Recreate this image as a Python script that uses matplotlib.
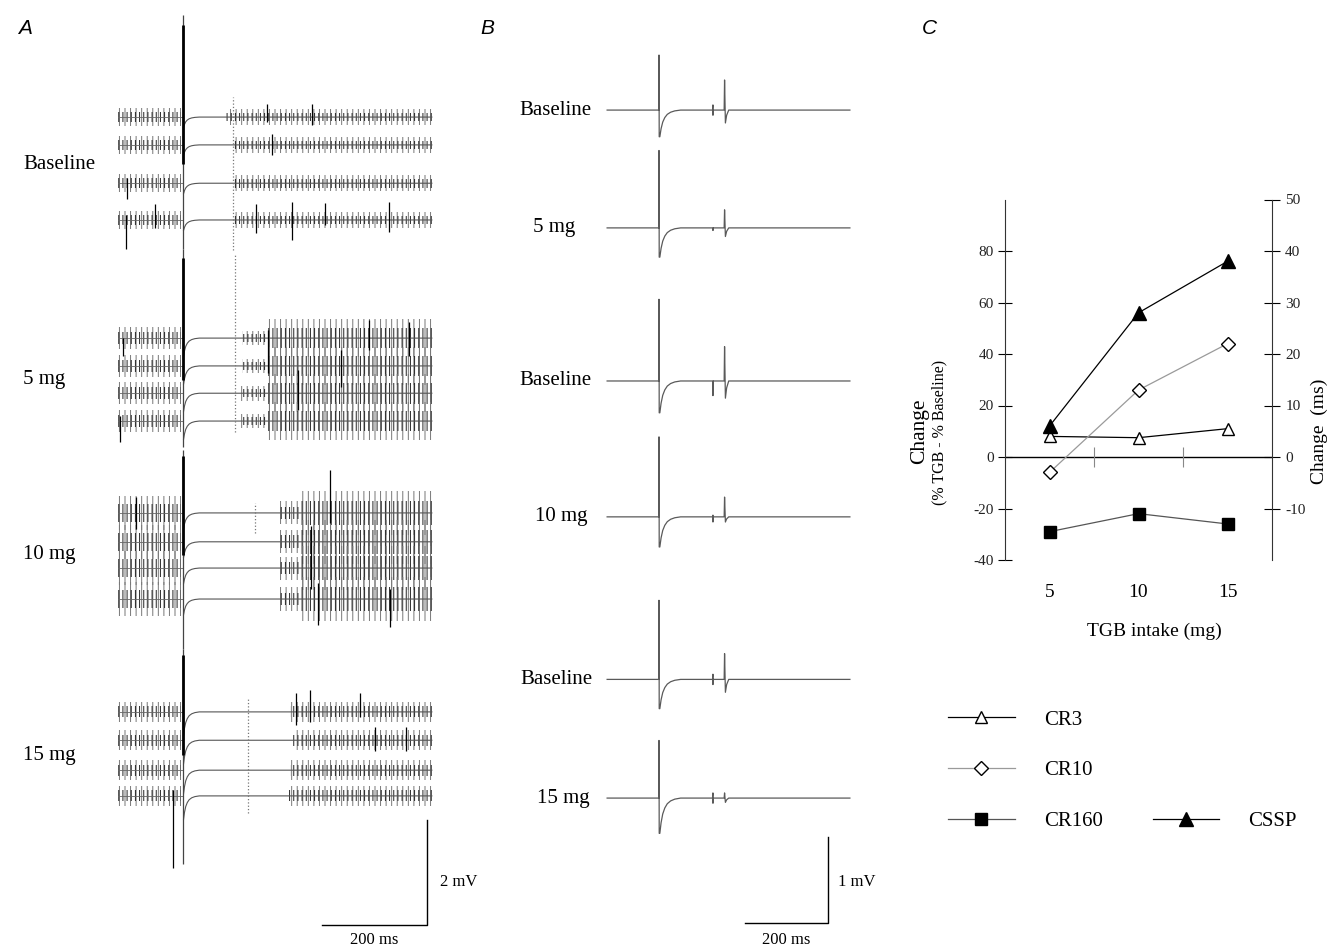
import matplotlib.pyplot as plt
from matplotlib.lines import Line2D

plt.rcParams['font.family'] = ['Liberation Serif', 'DejaVu Serif']
plt.rcParams['hatch.linewidth'] = 0.7
plt.rcParams['axes.unicode_minus'] = False

W, H = 1329, 951

# ---------------- panel A: EMG sweeps, 4 per condition ----------------
a_labels = ['Baseline', '5 mg', '10 mg', '15 mg']
a_start, a_end = -124, 474            # ms, stimulus at 0
# end of the silent period for every sweep (ms)
a_resume = [[82, 93, 93, 93],
            [112, 112, 110, 110],
            [185, 185, 183, 185],
            [204, 210, 204, 198]]
# half amplitude of background activity before the stimulus (mV)
a_amp_pre = [0.17, 0.21, 0.32, 0.19]
# activity after the silent period: (from ms or None = resume, to ms, half amplitude mV)
a_post = [[(None, 474, 0.15)],
          [(None, 160, 0.14), (160, 474, 0.36)],
          [(None, 222, 0.22), (222, 474, 0.42)],
          [(None, 474, 0.19)]]
a_dip = [0.2, 0.35, 0.3, 0.45]        # post stimulus dip (mV)
a_art_up = [1.95, 1.7, 1.2, 1.2]      # artefact above first sweep (mV)
a_art_down = [0.55, 0.5, 0.95, 1.3]   # artefact below last sweep (mV)
a_marker_t = [95, 99, 137, 124]       # dotted cursor (ms)
a_marker_span = [(0.38, 2.53), (1.58, 1.79), (0.19, 0.38), (0.27, 1.92)]
# single large spikes: group, sweep, time ms, up mV, down mV
a_spikes = [
    (0, 3, -109, 0.10, 0.55), (0, 3, -53, 0.30, 0.15), (0, 3, 139, 0.30, 0.25),
    (0, 3, 208, 0.34, 0.38), (0, 3, 270, 0.33, 0.10), (0, 3, 392, 0.34, 0.22),
    (0, 0, 160, 0.25, 0.10), (0, 0, 245, 0.25, 0.15), (0, 1, 170, 0.20, 0.20),
    (0, 2, -107, 0.10, 0.30),
    (1, 0, 354, 0.34, 0.23), (1, 0, 430, 0.30, 0.35), (1, 2, 219, 0.44, 0.32),
    (1, 0, 162, 0.15, 0.67), (1, 1, 300, 0.30, 0.40), (1, 3, -120, 0.10, 0.40),
    (1, 0, -115, 0.00, 0.35),
    (2, 0, 280, 0.82, 0.20), (2, 1, 244, 0.30, 0.90), (2, 3, 394, 0.20, 0.53),
    (2, 3, 257, 0.30, 0.50), (2, 0, -90, 0.30, 0.30),
    (3, 3, -19, 0.12, 1.37), (3, 0, 215, 0.36, 0.25), (3, 0, 242, 0.42, 0.20),
    (3, 0, 337, 0.36, 0.10), (3, 1, 366, 0.25, 0.20), (3, 1, 425, 0.25, 0.20),
]

# recovery of the trace after the stimulus (ms, fraction of dip)
rec_t = [0, 3, 7, 12, 18, 26, 36, 50]
rec_frac = [1.0, 0.7, 0.45, 0.28, 0.16, 0.08, 0.03, 0.0]

# ---------------- panel B: averaged responses ----------------
b_labels = ['Baseline', '5 mg', 'Baseline', '10 mg', 'Baseline', '15 mg']
b_start, b_end = -125, 460
b_art_up = [0.64, 0.90, 0.95, 0.93, 0.92, 0.67]
b_art_down = [0.31, 0.34, 0.37, 0.35, 0.34, 0.41]
b_resp_t = 159
b_resp_up = [0.35, 0.21, 0.40, 0.23, 0.30, 0.06]
b_resp_down = [0.15, 0.10, 0.20, 0.06, 0.15, 0.05]
b_mark_t = 130
b_mark_up = [0.06, 0.0, 0.0, 0.02, 0.06, 0.06]
b_mark_down = [0.06, 0.03, 0.17, 0.06, 0.06, 0.06]

# ---------------- panel C: summary ----------------
tgb = [5, 10, 15]
cr3 = [8, 7.5, 11]
cr10 = [-6, 26, 44]
cr160 = [-29, -22, -26]
cssp = [6, 28, 38]      # ms, right axis

# layout (rows in mV below the top edge of the figure)
A_ROWS = [[2.23, 2.76, 3.49, 4.19], [6.44, 6.97, 7.49, 8.02],
          [9.77, 10.32, 10.82, 11.41], [13.56, 14.10, 14.67, 15.16]]
B_ROWS = [1.28, 2.65, 4.43, 6.01, 7.90, 9.28]
B_LABEL_X = [-163, -203, -163, -172, -160, -168]

fig = plt.figure(figsize=(W / 100, H / 100), dpi=100)


def band(ax, t0, t1, y, amp):
    ax.fill_between([t0, t1], y - amp, y + amp, facecolor='none',
                    edgecolor='#777777', hatch='|||', linewidth=0)
    ax.fill_between([t0, t1], y - amp * 0.55, y + amp * 0.55, facecolor='none',
                    edgecolor='#222222', hatch='||||', linewidth=0)


# ---- A ----
ax_a = fig.add_axes([0, 0, 470 / W, 1])
ax_a.set_xlim(-183 / 0.525, -183 / 0.525 + 470 / 0.525)
ax_a.set_ylim(-H / 52.5, 0)
ax_a.axis('off')

for g, rows in enumerate(A_ROWS):
    for s, row in enumerate(rows):
        y = -row
        rt = [1 + v * 0.6 for v in rec_t]
        ry = [y - a_dip[g] * f for f in rec_frac]
        ax_a.plot([a_start, 0], [y, y], color='#666', lw=0.6)
        ax_a.plot(rt + [a_end], ry + [y], color='#555', lw=0.8)
        band(ax_a, a_start, -3, y, a_amp_pre[g])
        for t0, t1, amp in a_post[g]:
            band(ax_a, a_resume[g][s] if t0 is None else t0, t1, y, amp)
    top, bot = -rows[0], -rows[-1]
    ax_a.vlines(0, bot - a_art_down[g], top + a_art_up[g], color='#444', lw=0.9)
    ax_a.vlines(0, -(rows[1] + rows[2]) / 2, top + a_art_up[g] * 0.9, color='black', lw=2.0)
    up, down = a_marker_span[g]
    ax_a.vlines(a_marker_t[g], top - down, top + up, color='#777', lw=0.9, linestyles=':')
    ax_a.text(-305, -(rows[1] + rows[2]) / 2, a_labels[g], fontsize=15, ha='left', va='center')

for g, s, t, up, down in a_spikes:
    y = -A_ROWS[g][s]
    ax_a.vlines(t, y - down, y + up, color='black', lw=0.9)

# scale bars (2 mV, 200 ms)
ax_a.plot([265, 465, 465], [-17.62, -17.62, -15.62], color='black', lw=1.0)
ax_a.text(490, -16.8, '2 mV', fontsize=12, ha='left', va='center')
ax_a.text(365, -17.9, '200 ms', fontsize=12, ha='center', va='center')

# ---- B ----
ax_b = fig.add_axes([470 / W, 0, 410 / W, 1])
ax_b.set_xlim(-189 / 0.415, -189 / 0.415 + 410 / 0.415)
ax_b.set_ylim(-H / 86, 0)
ax_b.axis('off')

for i, row in enumerate(B_ROWS):
    y = -row
    t = [b_start, 0, 0, 0.5] + [2 + v for v in rec_t]
    v = [y, y, y + b_art_up[i], y - b_art_down[i]] + [y - b_art_down[i] * f for f in rec_frac]
    t += [b_mark_t - 1, b_mark_t, b_mark_t, b_mark_t + 1,
          b_resp_t - 2, b_resp_t - 1, b_resp_t + 1, b_resp_t + 4, b_resp_t + 9, b_end]
    v += [y, y + b_mark_up[i], y - b_mark_down[i], y,
          y, y + b_resp_up[i], y - b_resp_down[i], y - b_resp_down[i] * 0.4, y, y]
    ax_b.plot(t, v, color='#5a5a5a', lw=0.9)
    ax_b.text(B_LABEL_X[i], y, b_labels[i], fontsize=15, ha='right', va='center')

ax_b.plot([207, 407, 407], [-10.73, -10.73, -9.73], color='black', lw=1.0)
ax_b.text(431, -10.26, '1 mV', fontsize=12, ha='left', va='center')
ax_b.text(307, -10.93, '200 ms', fontsize=12, ha='center', va='center')

# ---- C ----
ax_c = fig.add_axes([1005 / W, 1 - 560 / H, 267 / W, 360.5 / H])
ax_r = ax_c.twinx()
ax_c.set_xlim(2.5, 17.5)
ax_c.set_ylim(-40, 100)
ax_r.set_ylim(-20, 50)

for ax in (ax_c, ax_r):
    ax.spines['top'].set_visible(False)
    ax.spines['bottom'].set_visible(False)
ax_c.spines['right'].set_visible(False)
ax_r.spines['left'].set_visible(False)
ax_c.spines['left'].set_color('#333')
ax_r.spines['right'].set_color('#333')

ax_c.set_yticks([-40, -20, 0, 20, 40, 60, 80])
ax_c.tick_params(axis='y', direction='inout', length=10, width=0.8, labelsize=11, pad=3, labelcolor='#222')
ax_r.set_yticks([-10, 0, 10, 20, 30, 40, 50])
ax_r.tick_params(axis='y', direction='inout', length=11, width=0.8, labelsize=11, pad=4, labelcolor='#222')

ax_c.set_xticks([])
ax_c.axhline(0, color='black', lw=1.0, zorder=1)
ax_c.set_xticks([7.5, 12.5], minor=True)
ax_c.spines['bottom'].set_position(('data', 0))
ax_c.tick_params(axis='x', which='minor', direction='inout', length=14, width=0.8, color='#888')

sec = ax_c.secondary_xaxis('bottom')
sec.set_xticks(tgb)
sec.tick_params(length=0, pad=17, labelsize=14)
sec.spines['bottom'].set_visible(False)
ax_c.set_xlabel('TGB intake (mg)', fontsize=14)
ax_c.xaxis.set_label_coords(0.56, -0.175)

ax_c.text(-0.318, 0.358, 'Change', fontsize=15.5, rotation=90, ha='center', va='center',
          transform=ax_c.transAxes)
ax_c.text(-0.247, 0.355, '(% TGB - % Baseline)', fontsize=11.5, rotation=90, ha='center',
          va='center', transform=ax_c.transAxes)
ax_c.text(1.176, 0.358, 'Change  (ms)', fontsize=14, rotation=90, ha='center', va='center',
          transform=ax_c.transAxes)

h3, = ax_c.plot(tgb, cr3, color='black', lw=0.9, marker='^', ms=9, mfc='white', mec='black', zorder=3)
h10, = ax_c.plot(tgb, cr10, color='#9a9a9a', lw=0.9, marker='D', ms=7, mfc='white', mec='black', zorder=3)
h160, = ax_c.plot(tgb, cr160, color='#555', lw=0.9, marker='s', ms=8, mfc='black', mec='black', zorder=3)
hs, = ax_r.plot(tgb, cssp, color='black', lw=0.9, marker='^', ms=10, mfc='black', mec='black', zorder=3)

blank = Line2D([], [], color='none')
fig.legend(handles=[h3, h10, h160, blank, blank, hs],
           labels=['CR3', 'CR10', 'CR160', '', '', 'CSSP'],
           ncol=2, loc='upper left', bbox_to_anchor=(948 / W, 1 - 710 / H),
           frameon=False, fontsize=15, handlelength=3.2, handletextpad=1.4,
           labelspacing=1.5, columnspacing=2.4, borderpad=0, borderaxespad=0)

# panel letters
for x, letter in [(18, 'A'), (480, 'B'), (922, 'C')]:
    fig.text(x / W, 1 - 28 / H, letter, fontsize=15, fontstyle='italic',
             family='Liberation Sans', va='center', ha='left')

fig.savefig('out.png', dpi=100)
